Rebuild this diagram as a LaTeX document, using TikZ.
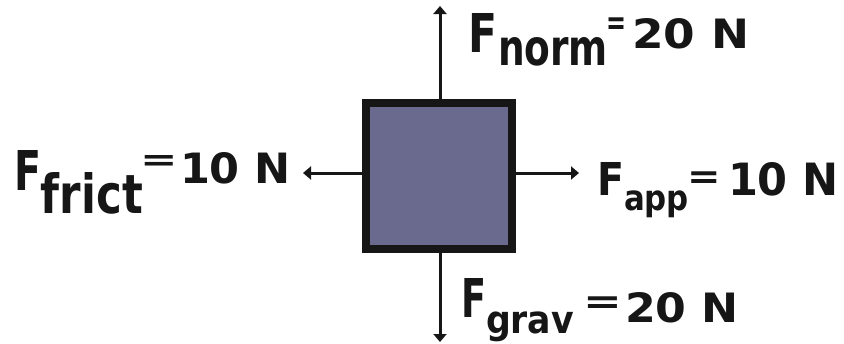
\documentclass[tikz,border=0pt]{standalone}
\usepackage{fontspec}
\setmainfont{DejaVu Sans}
\usepackage{graphicx}
\usetikzlibrary{arrows.meta}
\definecolor{blockfill}{HTML}{6A698E}
\definecolor{ink}{HTML}{161616}
\begin{document}
\begin{tikzpicture}[x=1pt,y=-1pt,
  txt/.style={inner sep=0pt,outer sep=0pt,anchor=north west,text=ink,font=\bfseries},
  force/.style={draw=ink,line width=3pt,-{Triangle[length=8pt,width=13pt]}}]
\useasboundingbox (0,0) rectangle (844,343);
% block
\node[draw=ink,line width=8pt,fill=blockfill,minimum width=146pt,minimum height=146pt,inner sep=0pt,outer sep=0pt] (box) at (439,176) {};
% arrow ends
\coordinate (tN) at (440,6);
\coordinate (tS) at (440,342);
\coordinate (tW) at (303,173);
\coordinate (tE) at (579,173);
\draw[force] (box.north -| tN) -- (tN);
\draw[force] (box.south -| tS) -- (tS);
\draw[force] (box.west |- tW) -- (tW);
\draw[force] (box.east |- tE) -- (tE);
% top label
\node[txt] (nF) at (468,13) {\resizebox{29pt}{39pt}{F}};
\node[txt] (nS) at (498,37) {\resizebox{110pt}{28pt}{norm}};
\node[txt] (nE) at (606.5,18) {\resizebox{20pt}{16.7pt}{=}};
\node[txt] (nV) at (632,18) {\resizebox{117pt}{30pt}{20 N}};
% left label
\node[txt] (wF) at (14,150) {\resizebox{27pt}{40pt}{F}};
\node[txt] (wS) at (41,172) {\resizebox{102pt}{41pt}{frict}};
\node[txt] (wE) at (140.3,155) {\resizebox{37.5pt}{15pt}{=}};
\node[txt] (wV) at (180,152) {\resizebox{111pt}{31pt}{10 N}};
% right label
\node[txt] (eF) at (597,162) {\resizebox{27pt}{33pt}{F}};
\node[txt] (eS) at (624,191) {\resizebox*{65pt}{27pt}{app}};
\node[txt] (eE) at (687.8,172) {\resizebox{33.5pt}{16.7pt}{=}};
\node[txt] (eV) at (728,162) {\resizebox{111pt}{33pt}{10 N}};
% bottom label
\node[txt] (sF) at (461,278) {\resizebox{25pt}{39pt}{F}};
\node[txt] (sS) at (486,312) {\resizebox*{88pt}{30pt}{grav}};
\node[txt] (sE) at (583.1,297) {\resizebox{38.8pt}{16.7pt}{=}};
\node[txt] (sV) at (625,292) {\resizebox{114pt}{30pt}{20 N}};
\end{tikzpicture}
\end{document}
